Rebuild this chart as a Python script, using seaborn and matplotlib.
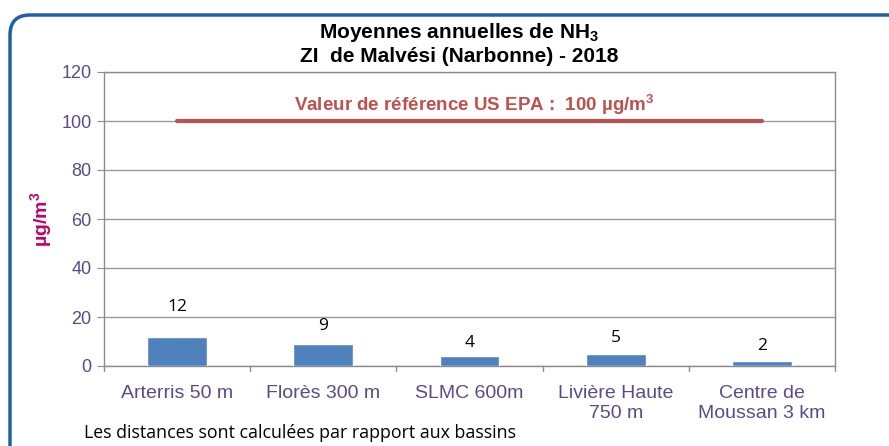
import matplotlib
matplotlib.use("Agg")
import matplotlib.pyplot as plt
from matplotlib.patches import PathPatch
from matplotlib.path import Path
import seaborn as sns
import pandas as pd

stations = ["Arterris 50 m", "Florès 300 m", "SLMC 600m", "Livière Haute\n750 m", "Centre de\nMoussan 3 km"]
nh3_means = [12, 9, 4, 5, 2]
reference_value = 100
y_ticks = [0, 20, 40, 60, 80, 100, 120]

# vertical gap between each bar and its value label, in µg/m3 (as placed in the original)
label_gap = [12, 7.5, 5.5, 6.5, 6]

df = pd.DataFrame({"station": stations, "nh3": nh3_means})

sns.set_style("white")
plt.rcParams["font.family"] = ["Liberation Sans", "DejaVu Sans"]
plt.rcParams["mathtext.fontset"] = "custom"
plt.rcParams["mathtext.rm"] = "Liberation Sans:bold"
plt.rcParams["mathtext.bf"] = "Liberation Sans:bold"
plt.rcParams["mathtext.default"] = "rm"

fig = plt.figure(figsize=(8.89, 4.46), dpi=100)
ax = fig.add_axes([104 / 889, (446 - 366) / 446, 731 / 889, 294 / 446])

# rounded blue frame: only left and top edges are inside the image (inches)
frame_path = Path([(0.10, -0.5), (0.10, 4.11), (0.10, 4.31), (0.30, 4.31), (9.5, 4.31)],
                  [Path.MOVETO, Path.LINETO, Path.CURVE3, Path.CURVE3, Path.LINETO])
frame = PathPatch(frame_path, transform=fig.dpi_scale_trans, fill=False,
                  edgecolor="#1f5fa8", linewidth=2.5, clip_on=False)
fig.patches.append(frame)

sns.barplot(data=df, x="station", y="nh3", color="#4f81bd", width=0.41,
            saturation=1, ax=ax, zorder=3)

for i, v in enumerate(nh3_means):
    ax.text(i, v + label_gap[i], str(v), ha="center", va="center", fontsize=12.5,
            color="black", family=["Open Sans", "DejaVu Sans"])

ax.plot([0, len(stations) - 1], [reference_value, reference_value],
        color="#c0504d", linewidth=3, solid_capstyle="round", zorder=4)
ax.text(2.03, reference_value + 6.5, "Valeur de référence US EPA :  100 µg/m$^3$",
        ha="center", va="center", fontsize=13.5, fontweight="bold", color="#c0504d")

ax.set_xlim(-0.5, len(stations) - 0.5)
ax.set_ylim(0, 120)
ax.set_yticks(y_ticks)
ax.yaxis.grid(True, color="#9a9a9a", linewidth=1, zorder=0)
ax.set_axisbelow(True)
for s in ax.spines.values():
    s.set_color("#8c8c8c")
    s.set_linewidth(1)

ax.set_xticks(range(len(stations)))
ax.set_xticklabels(stations, fontsize=14, color="#5b4a8a", linespacing=1.2)
ax.tick_params(axis="x", length=0, pad=14)
ax.tick_params(axis="y", left=True, length=5, color="#8c8c8c", labelsize=13,
               labelcolor="#5b4a8a", pad=4)
# category boundary ticks on x axis
for b in range(len(stations) + 1):
    ax.plot([b - 0.5, b - 0.5], [0, -2.0], color="#8c8c8c", linewidth=1, clip_on=False)

ax.set_xlabel("")
ax.set_ylabel("µg/m$^3$", fontsize=14, fontweight="bold", color="#c0006a", labelpad=5)

fig.text(459 / 889, 1 - 43 / 446, "Moyennes annuelles de NH$_3$\nZI  de Malvési (Narbonne) - 2018",
         ha="center", va="center", fontsize=15, fontweight="bold", color="black",
         linespacing=1.2)
fig.text(84 / 889, 1 - 433 / 446, "Les distances sont calculées par rapport aux bassins",
         ha="left", va="center", fontsize=12.8, color="black",
         family=["Open Sans", "DejaVu Sans"])

fig.savefig("out.png", dpi=100)
